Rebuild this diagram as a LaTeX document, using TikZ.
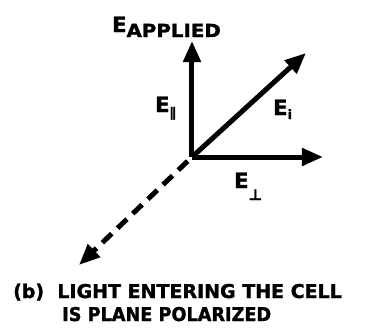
\documentclass[tikz,border=0pt]{standalone}
\usepackage{fontspec}
\setmainfont{DejaVu Sans}[BoldFeatures={FakeBold=1.5}]
\usetikzlibrary{arrows.meta,calc}
\begin{document}
\begin{tikzpicture}[x=1pt,y=-1pt,
  vec/.style={line width=5pt,-{Triangle[length=21pt,width=17pt]}},
  dvec/.style={vec,dash pattern=on 13pt off 8pt},
  lbl/.style={font=\bfseries\fontsize{21}{21}\selectfont,inner sep=0pt},
  captext/.style={font=\bfseries\fontsize{19}{19}\selectfont,inner sep=0pt}]
\useasboundingbox (0,0) rectangle (368,335);
\coordinate (o) at (192,157);
\coordinate (up) at (192,41);
\coordinate (rt) at (323,157);
\coordinate (di) at (306,53);
\coordinate (dl) at (79,265);
\draw[vec] (o) -- (up);
\draw[vec] (o) -- (rt);
\draw[vec] (o) -- (di);
\draw[dvec] ($(o)!6pt!(dl)$) -- (dl);
\node[lbl,anchor=base west] (ea) at (112,32) {E\raisebox{-5pt}{\scalebox{1.1}[1]{\fontsize{18}{18}\selectfont APPLIED}}};
\node[lbl,anchor=base west] (epar) at (155,112) {E\raisebox{-5pt}{\fontsize{13}{13}\selectfont ∥}};
\node[lbl,anchor=base west] (ei) at (273,115) {E\raisebox{-4pt}{\fontsize{13}{13}\selectfont i}};
\node[lbl,anchor=base west] (eperp) at (234,188) {E\raisebox{-12pt}{\fontsize{15}{15}\selectfont ⊥}};
\node[captext,anchor=base west] (c1) at (13,298) {(b)\ \ LIGHT ENTERING THE CELL};
\node[captext,anchor=base west] (c2) at (62,321) {\scalebox{0.93}[1]{IS PLANE POLARIZED}};
\end{tikzpicture}
\end{document}
